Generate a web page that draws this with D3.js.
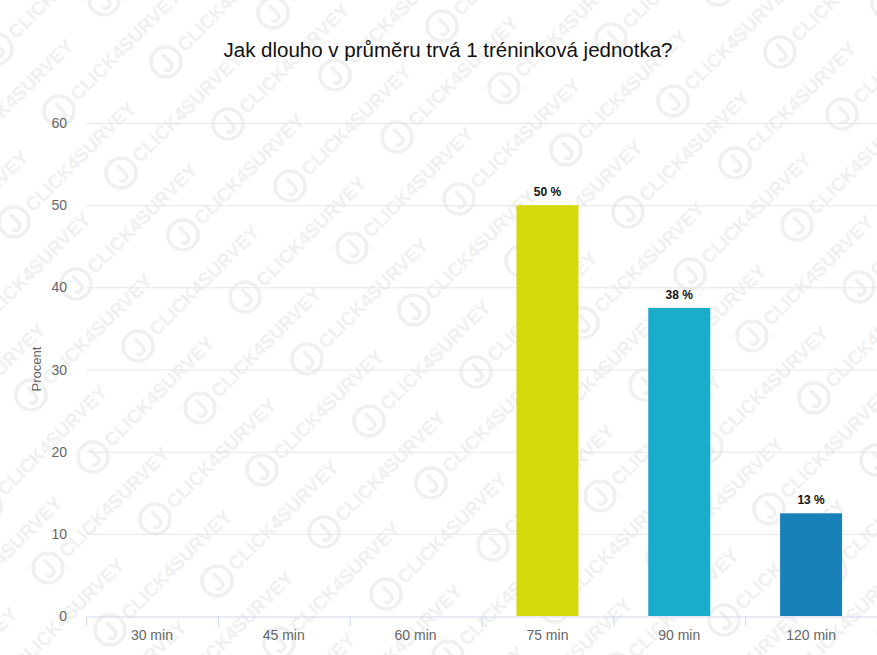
<!DOCTYPE html>
<html>
<head>
<meta charset="utf-8">
<script src="https://cdn.jsdelivr.net/npm/d3@7"></script>
<style>
  body{margin:0;background:#fff;}
  svg{display:block;font-family:"Liberation Sans",Arial,sans-serif;}
</style>
</head>
<body>
<svg id="chart" width="877" height="655"></svg>
<script>
var title='Jak dlouho v průměru trvá 1 tréninková jednotka?';
var categories=['30 min','45 min','60 min','75 min','90 min','120 min'];
var values=[0,0,0,50,37.5,12.5];
var labels=['','','','50 %','38 %','13 %'];
var colors=['#d5d80d','#d5d80d','#d5d80d','#d5d80d','#1babcb','#1a80b9'];
var yTicks=[0,10,20,30,40,50,60];

var svg=d3.select('#chart');
var W=877,H=655;
var m={top:123,right:0,bottom:39,left:86};

// faint CLICK4SURVEY watermark tiled over the whole picture
var wm=svg.append('g').attr('fill','#f0f0f0').attr('stroke','#f0f0f0');
for(var n=-12;n<14;n++){
  for(var k=-8;k<10;k++){
    var tx=200+n*62+k*107, ty=408+n*62-k*49;
    if(tx<-150||tx>W+20||ty<-20||ty>H+150) continue;
    var g=wm.append('g').attr('transform','translate('+tx+','+ty+') rotate(-45)');
    g.append('circle').attr('cx',0).attr('cy',0).attr('r',15)
      .attr('fill','none').attr('stroke-width',3.5);
    g.append('path').attr('d','M3,-8 L3,3 Q3,8 -2,8 Q-6,8 -6,4')
      .attr('fill','none').attr('stroke-width',3.5);
    g.append('text').attr('x',20).attr('y',7)
      .attr('stroke','none').attr('font-size',19).attr('font-weight','bold')
      .text('CLICK4SURVEY');
  }
}

var x=d3.scaleBand().domain(categories).range([m.left,W-m.right]).paddingInner(0).paddingOuter(0);
var y=d3.scaleLinear().domain([0,60]).range([H-m.bottom,m.top]);

// grid
svg.append('g').selectAll('line').data(yTicks.slice(1)).join('line')
  .attr('x1',m.left).attr('x2',W-m.right)
  .attr('y1',d=>y(d)+0.5).attr('y2',d=>y(d)+0.5)
  .attr('stroke','#e6e6e6');

// y labels
svg.append('g').selectAll('text').data(yTicks).join('text')
  .attr('x',67).attr('y',d=>y(d)+5)
  .attr('text-anchor','end').attr('fill','#666').attr('font-size',14)
  .text(d=>d);

svg.append('text')
  .attr('transform','translate(41,369) rotate(-90)')
  .attr('text-anchor','middle').attr('fill','#666').attr('font-size',13)
  .text('Procent');

// bars
var bw=62;
svg.append('g').selectAll('rect').data(values).join('rect')
  .attr('x',(d,i)=>x(categories[i])+x.bandwidth()/2-bw/2)
  .attr('y',d=>y(d))
  .attr('width',bw)
  .attr('height',d=>y(0)-y(d))
  .attr('fill',(d,i)=>colors[i]);

svg.append('g').selectAll('text').data(values).join('text')
  .attr('x',(d,i)=>x(categories[i])+x.bandwidth()/2)
  .attr('y',d=>y(d)-9)
  .attr('text-anchor','middle').attr('font-size',12).attr('font-weight','bold')
  .attr('fill','#111')
  .text((d,i)=>labels[i]);

// x axis
var xa=svg.append('g').attr('transform','translate(0,'+(y(0)+0.5)+')')
  .call(d3.axisBottom(x).tickSize(0).tickPadding(14));
xa.select('.domain').attr('stroke','#ccd6eb');
xa.selectAll('text').attr('fill','#666').attr('font-size',14)
  .attr('font-family','"Liberation Sans",Arial,sans-serif');
xa.selectAll('.sep').data(categories.concat(['end'])).join('line')
  .attr('x1',(d,i)=>m.left+i*x.bandwidth()+0.5)
  .attr('x2',(d,i)=>m.left+i*x.bandwidth()+0.5)
  .attr('y1',0).attr('y2',10).attr('stroke','#ccd6eb');

svg.append('text').attr('x',448).attr('y',57)
  .attr('text-anchor','middle').attr('font-size',20.5).attr('fill','#111')
  .text(title);
</script>
</body>
</html>
